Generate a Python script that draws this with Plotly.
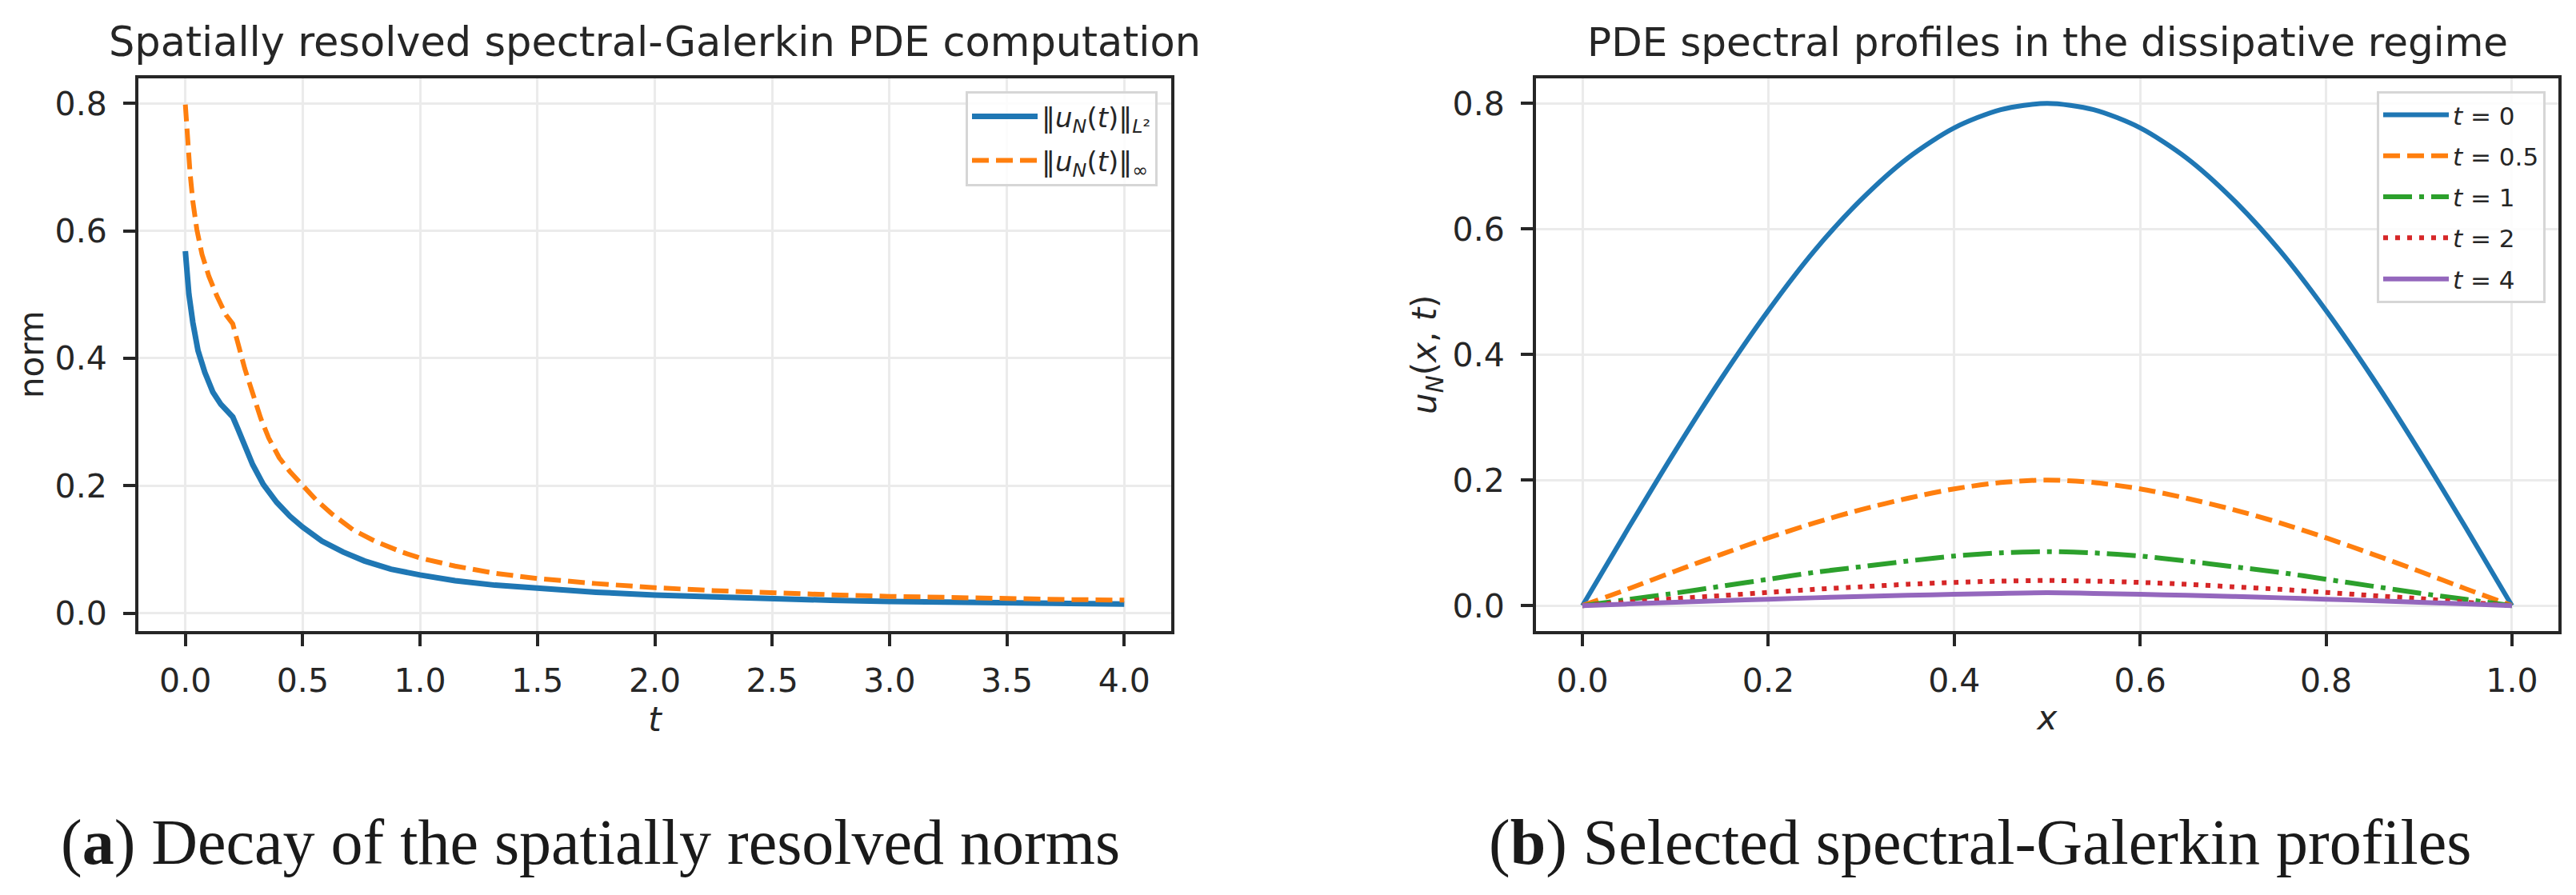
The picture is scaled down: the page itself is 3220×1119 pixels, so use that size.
import plotly.graph_objects as go

# ---------------- data ----------------
# panel (a): norms vs time
t_l2 = [0, 0.015, 0.032, 0.054, 0.083, 0.117, 0.151, 0.179, 0.202, 0.224, 0.253,
        0.287, 0.332, 0.389, 0.446, 0.5, 0.582, 0.672, 0.763, 0.876, 1.0, 1.149,
        1.319, 1.5, 1.75, 2.0, 2.25, 2.5, 2.75, 3.0, 3.25, 3.5, 3.75, 4.0]
norm_l2 = [0.568, 0.501, 0.456, 0.412, 0.378, 0.347, 0.328, 0.317, 0.308, 0.289, 0.261,
           0.233, 0.202, 0.174, 0.152, 0.135, 0.113, 0.096, 0.082, 0.069, 0.060, 0.051,
           0.044, 0.0385, 0.0330, 0.0285, 0.0253, 0.0226, 0.0203, 0.0184, 0.0170, 0.0159,
           0.0150, 0.0142]

t_inf = [0, 0.009, 0.020, 0.032, 0.049, 0.071, 0.100, 0.134, 0.173, 0.202, 0.224, 0.253,
         0.287, 0.321, 0.355, 0.400, 0.446, 0.5, 0.559, 0.627, 0.718, 0.808, 0.922, 1.0,
         1.149, 1.319, 1.5, 1.75, 2.0, 2.25, 2.5, 2.75, 3.0, 3.25, 3.5, 3.75, 4.0]
norm_inf = [0.798, 0.741, 0.691, 0.646, 0.602, 0.563, 0.529, 0.498, 0.468, 0.454, 0.423,
            0.384, 0.345, 0.306, 0.275, 0.244, 0.222, 0.1994, 0.177, 0.155, 0.130, 0.113,
            0.096, 0.0866, 0.074, 0.0626, 0.0544, 0.0465, 0.040, 0.0355, 0.0318, 0.0289,
            0.0264, 0.0244, 0.0226, 0.0215, 0.0205]

# panel (b): profiles u_N(x, t)
x_grid = [0, 0.05, 0.1, 0.15, 0.2, 0.25, 0.3, 0.35, 0.4, 0.45, 0.5,
          0.55, 0.6, 0.65, 0.7, 0.75, 0.8, 0.85, 0.9, 0.95, 1.0]
u_t0 = [0, 0.125, 0.247, 0.363, 0.470, 0.566, 0.647, 0.713, 0.761, 0.790, 0.800,
        0.790, 0.761, 0.713, 0.647, 0.566, 0.470, 0.363, 0.247, 0.125, 0]
u_t05 = [0, 0.027, 0.055, 0.082, 0.108, 0.132, 0.153, 0.171, 0.186, 0.196, 0.200,
         0.196, 0.186, 0.171, 0.153, 0.132, 0.108, 0.082, 0.055, 0.027, 0]
u_t1 = [0, 0.010, 0.020, 0.031, 0.042, 0.053, 0.062, 0.071, 0.079, 0.084, 0.086,
        0.084, 0.079, 0.071, 0.062, 0.053, 0.042, 0.031, 0.020, 0.010, 0]
u_t2 = [0, 0.0055, 0.0112, 0.016, 0.021, 0.026, 0.030, 0.034, 0.037, 0.039, 0.040,
        0.039, 0.037, 0.034, 0.030, 0.026, 0.021, 0.016, 0.0112, 0.0055, 0]
u_t4 = [0, 0.0027, 0.0053, 0.0078, 0.0102, 0.0125, 0.0146, 0.0165, 0.0180, 0.0195, 0.0205,
        0.0195, 0.0180, 0.0165, 0.0146, 0.0125, 0.0102, 0.0078, 0.0053, 0.0027, 0]

profile_labels = ["<i>t</i> = 0", "<i>t</i> = 0.5", "<i>t</i> = 1", "<i>t</i> = 2", "<i>t</i> = 4"]
profiles = [u_t0, u_t05, u_t1, u_t2, u_t4]
profile_colors = ["#1f77b4", "#ff7f0e", "#2ca02c", "#d62728", "#9467bd"]
profile_dash = ["solid", "21px,9px", "36px,9px,6px,9px", "6px,9px", "solid"]

left_xticks = [0, 0.5, 1.0, 1.5, 2.0, 2.5, 3.0, 3.5, 4.0]
right_xticks = [0, 0.2, 0.4, 0.6, 0.8, 1.0]
yticks = [0, 0.2, 0.4, 0.6, 0.8]

# ---------------- figure ----------------
W, H = 3220, 1119
INK = "#262626"
SANS = "DejaVu Sans"


def fx(p):
    return p / W


def fy(p):
    return 1 - p / H


fig = go.Figure()

fig.add_trace(go.Scatter(
    x=t_l2, y=norm_l2, mode="lines", xaxis="x", yaxis="y",
    name="‖<i>u</i><sub><i>N</i></sub>(<i>t</i>)‖<sub><i>L</i>²</sub>",
    line=dict(color="#1f77b4", width=7), legend="legend", legendgroup="a1"))
fig.add_trace(go.Scatter(
    x=t_inf, y=norm_inf, mode="lines", xaxis="x", yaxis="y",
    name="‖<i>u</i><sub><i>N</i></sub>(<i>t</i>)‖<sub>∞</sub>",
    line=dict(color="#ff7f0e", width=6, dash="21px,9px"), legend="legend", legendgroup="a2"))

for i, (lab, prof, col, dsh) in enumerate(zip(profile_labels, profiles, profile_colors, profile_dash)):
    fig.add_trace(go.Scatter(
        x=x_grid, y=prof, mode="lines", xaxis="x2", yaxis="y2", name=lab,
        line=dict(color=col, width=6, dash=dsh, shape="spline", smoothing=0.8),
        legend="legend2", legendgroup="b%d" % i))

axis_common = dict(
    showline=True, linecolor=INK, linewidth=4, mirror=True,
    ticks="outside", ticklen=15, tickwidth=4, tickcolor=INK,
    showgrid=True, gridcolor="#ebebeb", gridwidth=3, zeroline=False,
    tickfont=dict(family=SANS, size=41, color=INK),
    title_font=dict(family=SANS, size=42, color=INK),
)

y_dom = [fy(790), fy(98)]

fig.update_layout(
    width=W, height=H,
    margin=dict(l=0, r=0, t=0, b=0),
    paper_bgcolor="white", plot_bgcolor="white",
    font=dict(family=SANS, color=INK),
    showlegend=True,
    xaxis=dict(axis_common, domain=[fx(173), fx(1464)], anchor="y",
               range=[-0.2, 4.2], tickvals=left_xticks,
               ticktext=["%.1f" % v for v in left_xticks],
               title=dict(text="<i>t</i>", standoff=12), ticklabelstandoff=8),
    yaxis=dict(axis_common, domain=y_dom, anchor="x",
               range=[-0.0275, 0.8394], tickvals=yticks,
               ticktext=["%.1f" % v for v in yticks],
               title=dict(text="norm", standoff=2), ticklabelstandoff=12),
    xaxis2=dict(axis_common, domain=[fx(1920), fx(3198)], anchor="y2",
                range=[-0.05, 1.05], tickvals=right_xticks,
                ticktext=["%.1f" % v for v in right_xticks],
                title=dict(text="<i>x</i>", standoff=10), ticklabelstandoff=8),
    yaxis2=dict(axis_common, domain=y_dom, anchor="x2",
                range=[-0.04, 0.84], tickvals=yticks,
                ticktext=["%.1f" % v for v in yticks],
                title=dict(text="<i>u</i><sub><i>N</i></sub>(<i>x</i>, <i>t</i>)", standoff=8),
                ticklabelstandoff=12),
    legend=dict(x=fx(1447), y=fy(114), xanchor="right", yanchor="top",
                bgcolor="rgba(255,255,255,0.85)", bordercolor="#d6d6d6", borderwidth=3,
                font=dict(family=SANS, size=34, color=INK), tracegroupgap=8,
                itemwidth=82),
    legend2=dict(x=fx(3182), y=fy(114), xanchor="right", yanchor="top",
                 bgcolor="rgba(255,255,255,0.85)", bordercolor="#d6d6d6", borderwidth=3,
                 font=dict(family=SANS, size=31, color=INK), tracegroupgap=8,
                 itemwidth=82),
)

annotations = [
    dict(text="Spatially resolved spectral-Galerkin PDE computation",
         x=fx(818), y=fy(53), xref="paper", yref="paper", xanchor="center", yanchor="middle",
         showarrow=False, font=dict(family=SANS, size=51, color=INK)),
    dict(text="PDE spectral profiles in the dissipative regime",
         x=fx(2559), y=fy(53), xref="paper", yref="paper", xanchor="center", yanchor="middle",
         showarrow=False, font=dict(family=SANS, size=50, color=INK)),
    dict(text="(<b>a</b>) Decay of the spatially resolved norms",
         x=fx(738), y=fy(1055), xref="paper", yref="paper", xanchor="center", yanchor="middle",
         showarrow=False, font=dict(family="Liberation Serif", size=80, color="#1a1a1a")),
    dict(text="(<b>b</b>) Selected spectral-Galerkin profiles",
         x=fx(2475), y=fy(1055), xref="paper", yref="paper", xanchor="center", yanchor="middle",
         showarrow=False, font=dict(family="Liberation Serif", size=80, color="#1a1a1a")),
]
fig.update_layout(annotations=annotations)

fig.write_html("out.html", config={"displayModeBar": False},
               post_script="document.body.style.margin='0';document.body.style.overflow='hidden';")
